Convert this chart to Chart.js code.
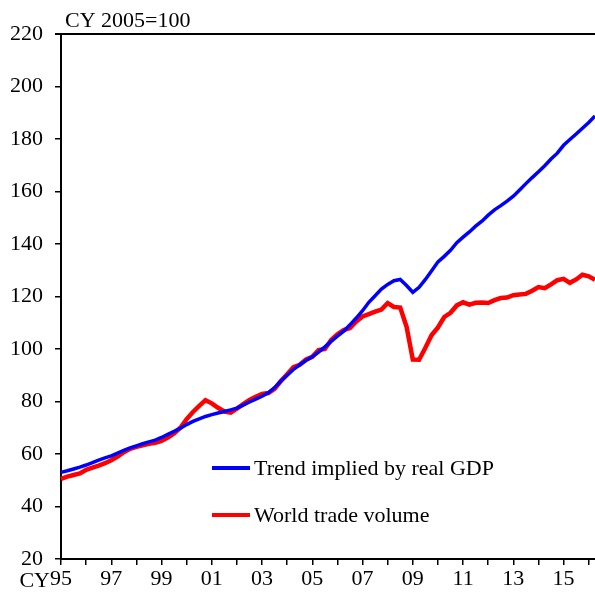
<!DOCTYPE html>
<html>
<head>
<meta charset="utf-8">
<script src="https://cdn.jsdelivr.net/npm/chart.js@4.4.1/dist/chart.umd.min.js"></script>
<style>
    body { margin: 0; background: #fff; }
    #chart { display: block; }
</style>
</head>
<body>
<canvas id="chart" width="595" height="594"></canvas>
<script>
const years = []
for(let y = 1995; y <= 2016; y++) years.push(y)

const quarters = []
years.forEach(y => [1, 2, 3, 4].forEach(q => quarters.push(`${y}Q${q}`)))
quarters.splice(86)

const yearLabels = ['CY95', '97', '99', '01', '03', '05', '07', '09', '11', '13', '15']

const trendGDP = [
    53.0, 53.6, 54.3, 55.0, 55.8, 56.7, 57.7, 58.5, 59.3, 60.3,
    61.4, 62.3, 63.1, 63.9, 64.6, 65.3, 66.3, 67.5, 68.6, 69.8,
    71.2, 72.4, 73.4, 74.3, 75.0, 75.6, 76.2, 76.8, 77.5, 78.6,
    79.8, 80.9, 82.0, 83.3, 85.3, 87.8, 90.0, 92.2, 94.0, 95.6,
    97.0, 98.8, 100.8, 102.9, 104.9, 106.8, 109.2, 111.8, 114.6, 117.8,
    120.3, 122.8, 124.6, 126.0, 126.5, 124.2, 121.6, 123.5, 126.5, 129.8,
    133.2, 135.3, 137.6, 140.5, 142.6, 144.6, 146.8, 148.7, 151.0, 153.0,
    154.6, 156.3, 158.2, 160.6, 163.0, 165.3, 167.5, 169.8, 172.4, 174.6,
    177.6, 179.8, 181.9, 184.1, 186.3, 188.8
]

const tradeVolume = [
    50.5, 51.4, 52.0, 52.6, 54.0, 54.8, 55.6, 56.5, 57.6, 59.0,
    60.7, 62.0, 62.7, 63.3, 63.9, 64.3, 65.0, 66.3, 67.8, 70.0,
    73.3, 76.0, 78.3, 80.5, 79.3, 77.6, 76.2, 75.8, 77.3, 79.0,
    80.6, 81.8, 82.9, 83.2, 84.8, 87.8, 90.4, 93.1, 94.0, 96.0,
    97.0, 99.6, 100.0, 103.4, 105.6, 107.2, 108.0, 110.5, 112.4, 113.3,
    114.2, 115.0, 117.5, 116.0, 115.8, 108.5, 96.0, 95.9, 100.5, 105.3,
    108.2, 112.2, 113.8, 116.6, 117.8, 116.9, 117.6, 117.7, 117.5, 118.6,
    119.4, 119.6, 120.5, 120.8, 121.0, 122.2, 123.6, 123.2, 124.6, 126.2,
    126.7, 125.2, 126.5, 128.3, 127.7, 126.4
]

const FONT = '"Liberation Serif", "Times New Roman", serif'

const frame = {
    id: 'frame',
    afterDraw: chart => {
        const { ctx, chartArea } = chart
        ctx.save()
        ctx.strokeStyle = '#000'
        ctx.lineWidth = 2
        ctx.beginPath()
        ctx.moveTo(chartArea.left - 6, chartArea.top)
        ctx.lineTo(chartArea.right, chartArea.top)
        ctx.stroke()

        ctx.fillStyle = '#000'
        ctx.font = `22px ${FONT}`
        ctx.textBaseline = 'alphabetic'
        ctx.textAlign = 'left'
        ctx.fillText('CY 2005=100', 65, 27)

        // legend inside the plot
        const rows = [{ y: 468 }, { y: 515 }]
        chart.data.datasets.forEach((ds, i) => {
            const y = rows[i].y
            ctx.strokeStyle = ds.borderColor
            ctx.lineWidth = 4
            ctx.beginPath()
            ctx.moveTo(212, y)
            ctx.lineTo(250, y)
            ctx.stroke()
            ctx.fillText(ds.label, 254, y + 7)
        })
        ctx.restore()
    }
}

new Chart('chart', {
    type: 'line',
    data: {
        labels: quarters,
        datasets: [
            { label: 'Trend implied by real GDP', data: trendGDP, borderColor: '#0000ff', borderWidth: 3.5 },
            { label: 'World trade volume', data: tradeVolume, borderColor: '#ff0000', borderWidth: 4.5 }
        ]
    },
    options: {
        responsive: false,
        animation: false,
        layout: { padding: { top: 34, right: 0, left: 0, bottom: 0 } },
        elements: { point: { radius: 0 }, line: { tension: 0 } },
        plugins: { legend: { display: false }, tooltip: { enabled: false } },
        scales: {
            x: {
                offset: false,
                afterFit: scale => { scale.height = 35 },
                border: { display: true, color: '#000', width: 2 },
                grid: { drawOnChartArea: false, drawTicks: true, tickLength: 6, color: '#000', lineWidth: 1.5 },
                ticks: {
                    autoSkip: false,
                    maxRotation: 0,
                    padding: 1,
                    color: '#000',
                    font: { family: FONT, size: 22 },
                    callback: (val, index) => {
                        if(index % 4 !== 0) return null
                        if(index % 8 !== 0) return ''
                        const label = yearLabels[index / 8]
                        return label === 'CY95' ? '95' : label
                    }
                }
            },
            y: {
                min: 20,
                max: 220,
                afterFit: scale => { scale.width = 61 },
                border: { display: true, color: '#000', width: 2 },
                grid: { drawOnChartArea: false, drawTicks: true, tickLength: 6, color: '#000', lineWidth: 1.5 },
                ticks: {
                    stepSize: 20,
                    padding: 12,
                    color: '#000',
                    font: { family: FONT, size: 22 }
                }
            }
        }
    },
    plugins: [frame, {
        id: 'cyLabel',
        afterDraw: chart => {
            const { ctx } = chart
            const x = chart.scales.x.getPixelForValue(0)
            ctx.save()
            ctx.fillStyle = '#000'
            ctx.font = `22px ${FONT}`
            ctx.textAlign = 'right'
            ctx.textBaseline = 'alphabetic'
            ctx.fillText('CY', x - 11, 587)
            ctx.restore()
        }
    }]
})
</script>
</body>
</html>
